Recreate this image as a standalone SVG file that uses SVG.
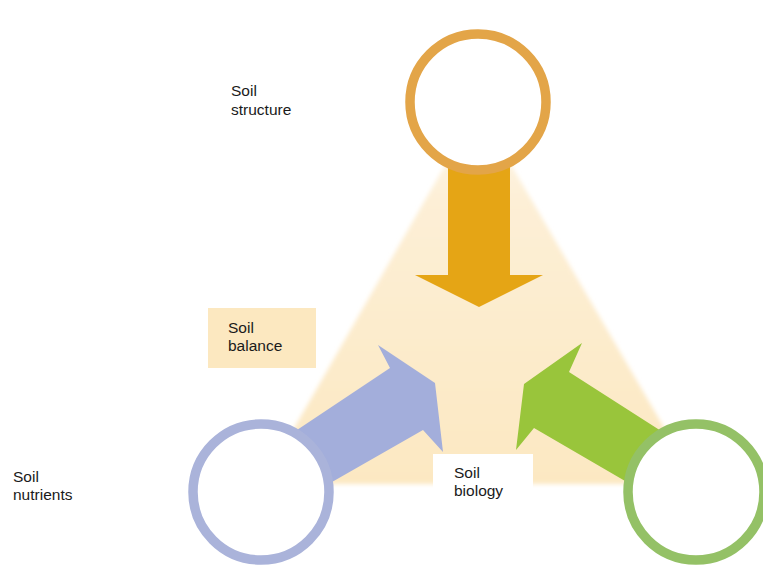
<svg xmlns="http://www.w3.org/2000/svg" width="763" height="569" viewBox="0 0 763 569">
  <style>
    .lbl { font-family: "Liberation Sans", Arial, sans-serif; font-size: 15.5px; fill: #1a1a1a; }
    .ring { fill: #ffffff; stroke-width: 9.5; }
  </style>
  <defs>
    <linearGradient id="triGrad" x1="0" y1="108" x2="0" y2="484" gradientUnits="userSpaceOnUse">
      <stop offset="0" stop-color="#fef7ea"/>
      <stop offset="0.25" stop-color="#fdefd6"/>
      <stop offset="1" stop-color="#fce8c2"/>
    </linearGradient>
    <filter id="soft" x="-10%" y="-10%" width="120%" height="120%">
      <feGaussianBlur stdDeviation="2"/>
    </filter>
  </defs>
  <rect width="763" height="569" fill="#ffffff"/>
  <polygon points="478,108 262,484 697,484" fill="url(#triGrad)" filter="url(#soft)"/>
  <g id="connectors">
    <polygon id="arrow-structure" points="448,110 510,110 510,275 543,275 479,307 415,275 448,275" fill="#e5a515"/>
    <polygon id="arrow-nutrients" points="261,454 390,368 378,345 435,383 443,452 423,430 290,506" fill="#a3aedb"/>
    <polygon id="arrow-biology" points="697,454 569,372 582,343 524,384 516,450 534,428 668,506" fill="#99c53b"/>
  </g>
  <g id="node-structure">
    <circle class="ring" cx="478" cy="102" r="68" stroke="#e3a548"/>
    <text class="lbl" x="231" y="96">Soil</text>
    <text class="lbl" x="231" y="115">structure</text>
  </g>
  <g id="node-nutrients">
    <circle class="ring" cx="261" cy="492" r="68" stroke="#aab3da"/>
    <text class="lbl" x="13" y="482">Soil</text>
    <text class="lbl" x="13" y="500">nutrients</text>
  </g>
  <g id="node-biology-circle">
    <circle class="ring" cx="696" cy="492" r="68" stroke="#94c166"/>
  </g>
  <g id="node-balance">
    <rect x="208" y="308" width="108" height="60" fill="#fce8c0"/>
    <text class="lbl" x="228" y="333">Soil</text>
    <text class="lbl" x="228" y="351">balance</text>
  </g>
  <g id="node-biology">
    <rect x="433" y="454" width="100" height="34" fill="#ffffff"/>
    <text class="lbl" x="454" y="478">Soil</text>
    <text class="lbl" x="454" y="496">biology</text>
  </g>
</svg>
